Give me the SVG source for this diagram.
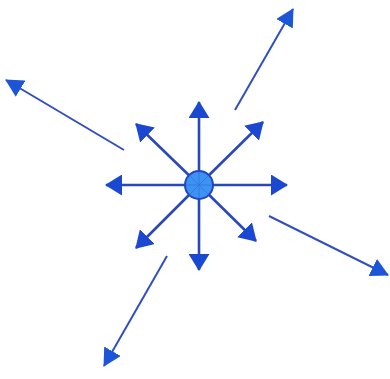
<svg xmlns="http://www.w3.org/2000/svg" width="390" height="379" viewBox="0 0 390 379">
<defs>
<marker id="ah" markerUnits="userSpaceOnUse" markerWidth="17" markerHeight="21" viewBox="0 0 17 21" refX="16" refY="10.5" orient="auto">
<path d="M0,0 L17,10.5 L0,21 Z" fill="#1a48d0"/>
</marker>
<marker id="ahl" markerUnits="userSpaceOnUse" markerWidth="18" markerHeight="19" viewBox="0 0 18 19" refX="17" refY="9.5" orient="auto">
<path d="M0,0 L18,9.5 L0,19 Z" fill="#1d55d8"/>
</marker>
<style>
.s{stroke:#2848c0;stroke-width:2.6;fill:none;marker-end:url(#ah)}
.l{stroke:#3050c0;stroke-width:2;fill:none;marker-end:url(#ahl)}
</style>
</defs>
<rect width="390" height="379" fill="#ffffff"/>
<g id="connectors">
<line class="s" x1="199" y1="185" x2="199" y2="102"/>
<line class="s" x1="199" y1="185" x2="199" y2="270"/>
<line class="s" x1="199" y1="185" x2="106" y2="185"/>
<line class="s" x1="199" y1="185" x2="287" y2="185"/>
<line class="s" x1="199" y1="185" x2="136" y2="124"/>
<line class="s" x1="199" y1="185" x2="263" y2="122"/>
<line class="s" x1="199" y1="185" x2="136" y2="248"/>
<line class="s" x1="199" y1="185" x2="256" y2="241"/>
<line class="l" x1="124" y1="150" x2="6" y2="80"/>
<line class="l" x1="235" y1="110" x2="293" y2="9"/>
<line class="l" x1="269" y1="216" x2="388" y2="275"/>
<line class="l" x1="167" y1="256" x2="104" y2="366"/>
</g>
<g id="center">
<circle cx="199" cy="185" r="14" fill="#3d92f2" stroke="#2048c0" stroke-width="2"/>
<path d="M199,172 V198 M186,185 H212 M190,176 L208,194 M208,176 L190,194" stroke="#2a60d0" stroke-width="0.8" opacity="0.6"/>
</g>
</svg>
